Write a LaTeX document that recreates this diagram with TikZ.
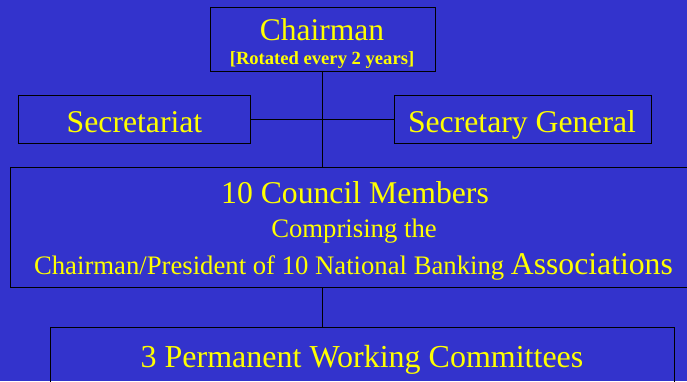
\documentclass[tikz,border=0pt]{standalone}
\usepackage{fontspec}
\setmainfont{Liberation Serif}
\definecolor{bgblue}{RGB}{51,51,204}
\definecolor{txtyellow}{RGB}{255,255,0}
\tikzset{
    box/.style={draw=black, line width=0.9pt, inner sep=0pt},
    txt/.style={text=txtyellow, anchor=base, inner sep=0pt},
    big/.style={font=\fontsize{31.7}{36}\selectfont},
    mid/.style={font=\fontsize{26.7}{31}\selectfont}
}
\begin{document}
\begin{tikzpicture}[x=1pt, y=-1pt]
    % Background
    \fill[bgblue] (0,0) rectangle (687,381);
    \useasboundingbox (0,0) rectangle (687,381);
    \clip (0,0) rectangle (687,381);

    % Draw the boxes
    \node[box, minimum width=225pt, minimum height=64pt] (chair) at (322.5,39) {};
    \node[box, minimum width=232pt, minimum height=48pt] (secr) at (134,119) {};
    \node[box, minimum width=257pt, minimum height=48pt] (secgen) at (522.5,119) {};
    \node[box, minimum width=688pt, minimum height=120pt] (council) at (354,227) {};
    \node[box, minimum width=624pt, minimum height=68pt] (wc) at (362,361) {};

    % Lines between them
    \draw[line width=0.9pt] (chair.south) -- (chair.south |- council.north);
    \draw[line width=0.9pt] (secr.east) -- (secgen.west);
    \draw[line width=0.9pt] (chair.south |- council.south) -- (chair.south |- wc.north);

    % Texts
    \node[txt, font=\fontsize{31.5}{36}\selectfont] (chairtxt) at (322,40) {Chairman};
    \node[txt, font=\bfseries\fontsize{18.6}{22}\selectfont] (rottxt) at (322,64) {[Rotated every 2 years]};
    \node[txt, big] (secrtxt) at (134.5,132) {Secretariat};
    \node[txt, big] (secgentxt) at (522,132) {Secretary General};
    \node[txt, big] (counciltxt) at (355,203) {10 Council Members};
    \node[txt, mid] (comptxt) at (354,237) {Comprising the};
    \node[txt, mid] (assoctxt) at (353.5,274) {Chairman/President of 10 National Banking {\fontsize{31.7}{36}\selectfont Associations}};
    \node[txt, font=\fontsize{32}{36}\selectfont] (wctxt) at (362,367) {3 Permanent Working Committees};
\end{tikzpicture}
\end{document}
